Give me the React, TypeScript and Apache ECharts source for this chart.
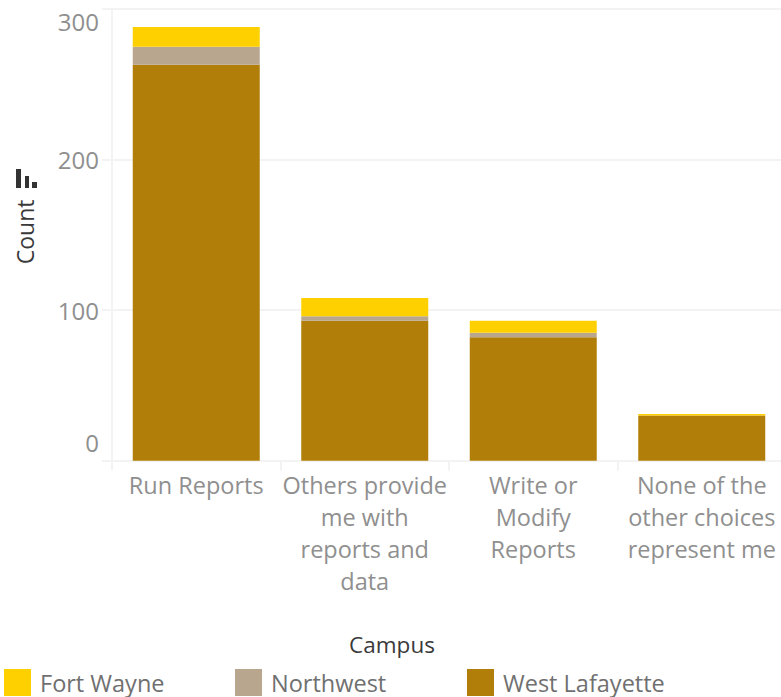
import React, { useEffect, useRef } from "react";
import * as echarts from "echarts";

const categories = [
  "Run Reports",
  "Others provide\nme with\nreports and\ndata",
  "Write or\nModify\nReports",
  "None of the\nother choices\nrepresent me",
];
const westLafayette = [263, 93, 82, 30];
const northwest = [12, 3, 3, 0];
const fortWayne = [13, 12, 8, 1];
const yTicks = [0, 100, 200, 300];

const FONT = "Open Sans";
const GRID = "#f3f3f4";
const LABEL = "#8f8f8f";
const DARK = "#3a3a3a";

export default function App() {
  const ref = useRef<HTMLDivElement>(null);
  useEffect(() => {
    document.body.style.margin = "0";
    const chart = echarts.init(ref.current!, undefined, { renderer: "svg" });
    const legendBase = {
      top: 669,
      itemWidth: 27,
      itemHeight: 27,
      itemGap: 0,
      padding: 0,
      icon: "rect",
      textStyle: { fontFamily: FONT, fontSize: 23.5, lineHeight: 26, color: "#707070", padding: [0, 0, 0, 4] },
    };
    chart.setOption({
      animation: false,
      backgroundColor: "#ffffff",
      grid: { left: 112, top: 9, width: 674, height: 451.7, containLabel: false, outerBoundsMode: "none" },
      title: {
        text: "Campus",
        left: 392,
        textAlign: "center",
        top: 633,
        padding: 0,
        textStyle: { fontFamily: FONT, fontSize: 22.5, fontWeight: "normal", color: DARK },
      },
      legend: [
        { ...legendBase, left: 4, data: ["Fort Wayne"] },
        { ...legendBase, left: 235, data: ["Northwest"] },
        { ...legendBase, left: 467, data: ["West Lafayette"] },
      ],
      xAxis: {
        type: "category",
        data: categories,
        axisLine: { show: true, lineStyle: { color: GRID, width: 2 } },
        axisTick: { show: true, alignWithLabel: false, length: 10, lineStyle: { color: GRID, width: 2 } },
        axisLabel: {
          interval: 0,
          fontFamily: FONT,
          fontSize: 23.5,
          lineHeight: 32,
          color: LABEL,
          margin: 8,
        },
      },
      yAxis: {
        type: "value",
        min: 0,
        max: 300,
        interval: 100,
        name: "Count",
        nameLocation: "middle",
        nameGap: 76,
        nameTextStyle: { fontFamily: FONT, fontSize: 23, color: DARK, padding: [0, 0, 0, 6] },
        axisLine: { show: true, lineStyle: { color: GRID, width: 2 } },
        axisTick: { show: true, length: 10, lineStyle: { color: GRID, width: 2 } },
        splitLine: { show: true, lineStyle: { color: GRID, width: 2 } },
        axisLabel: {
          fontFamily: FONT,
          fontSize: 24,
          color: LABEL,
          margin: 13,
          verticalAlignMinLabel: "bottom",
          verticalAlignMaxLabel: "top",
          formatter: (v: number) => (v === yTicks[0] ? "{zero|" + v + "}" : String(v)),
          rich: { zero: { fontFamily: FONT, fontSize: 24, color: LABEL, padding: [0, 0, 6, 0] } },
        },
      },
      series: [
        {
          name: "West Lafayette",
          type: "bar",
          stack: "c",
          barWidth: 127,
          data: westLafayette,
          itemStyle: { color: "#b17f09" },
        },
        {
          name: "Northwest",
          type: "bar",
          stack: "c",
          data: northwest,
          itemStyle: { color: "#b9a68e" },
        },
        {
          name: "Fort Wayne",
          type: "bar",
          stack: "c",
          data: fortWayne,
          itemStyle: { color: "#ffd000" },
        },
      ],
      graphic: [
        { type: "rect", shape: { x: 16, y: 169, width: 5, height: 19 }, style: { fill: "#333" } },
        { type: "rect", shape: { x: 25, y: 176, width: 4, height: 12 }, style: { fill: "#333" } },
        { type: "rect", shape: { x: 32, y: 182, width: 5, height: 6 }, style: { fill: "#333" } },
      ],
    });
    return () => chart.dispose();
  }, []);
  return <div ref={ref} style={{ width: 781, height: 697 }} />;
}
